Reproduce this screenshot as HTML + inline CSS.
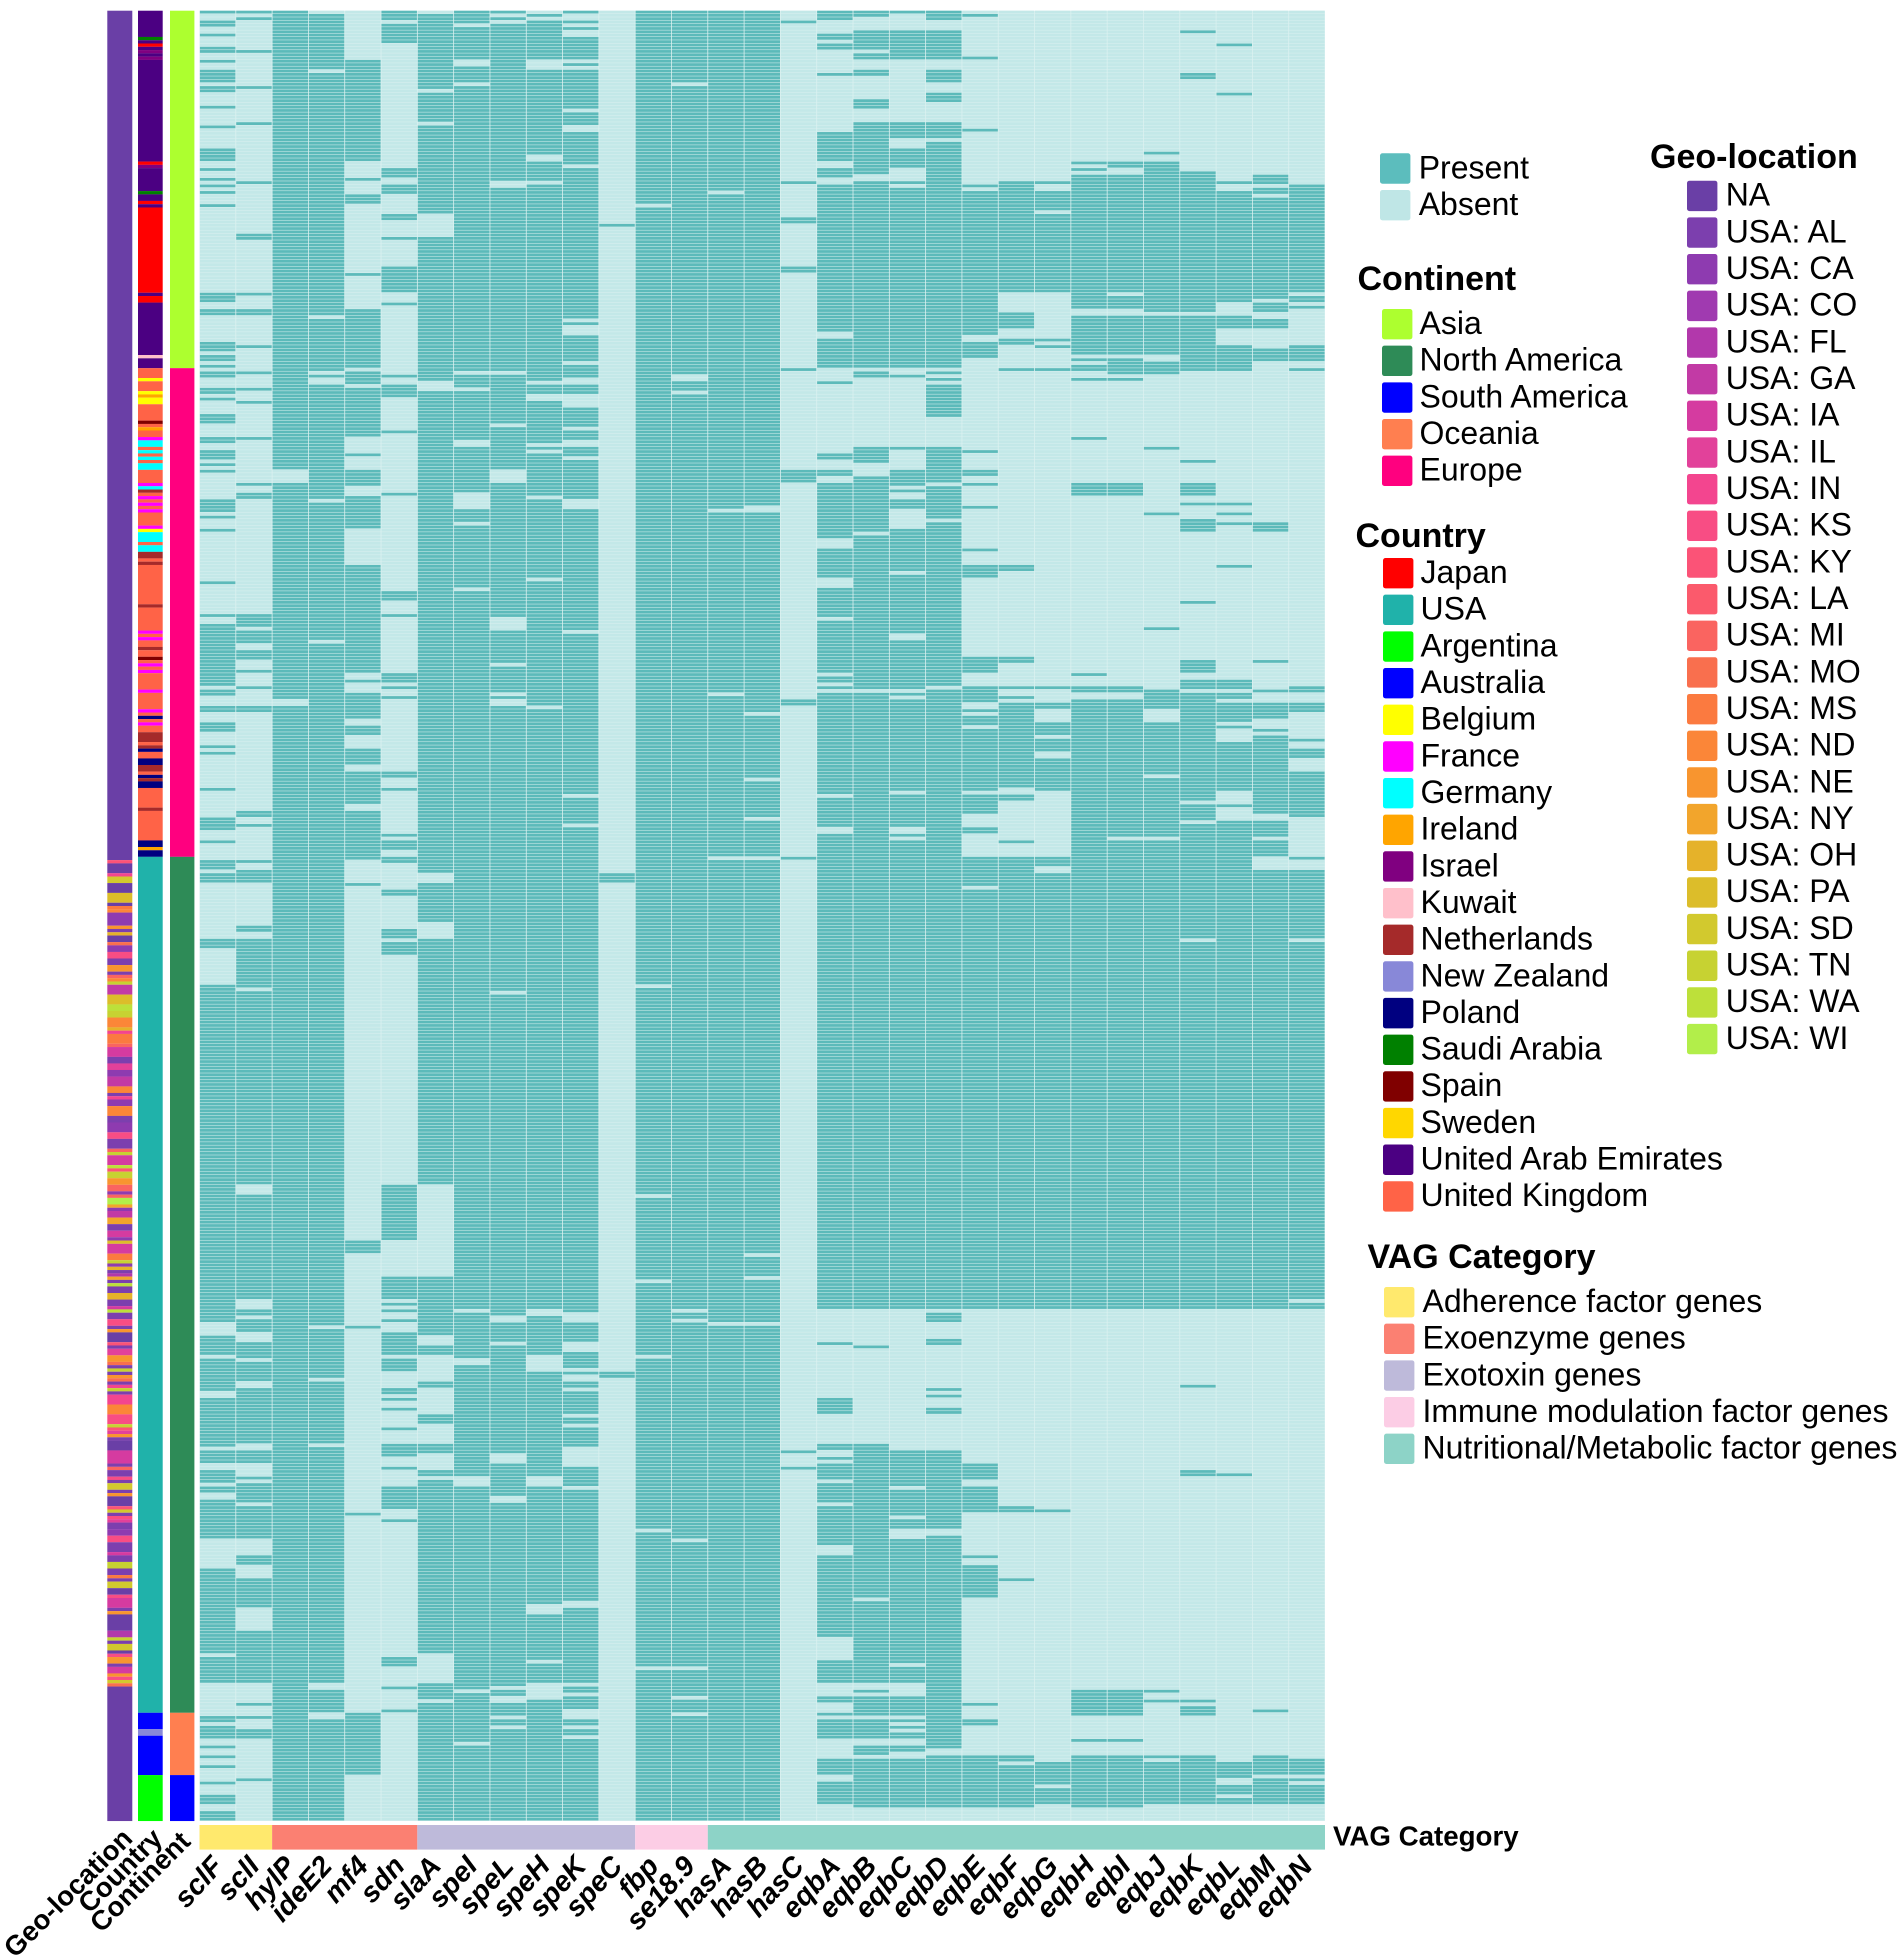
<!DOCTYPE html>
<html lang="en">
<head>
<meta charset="utf-8">
<title>VAG presence/absence heatmap</title>
<style>
html,body{margin:0;padding:0;background:#fff;}
svg{display:block;font-family:"Liberation Sans",Arial,sans-serif;}
</style>
</head>
<body>
<svg id="chart" xmlns="http://www.w3.org/2000/svg" width="1902" height="1959" viewBox="0 0 1902 1959">
<rect x="0" y="0" width="1902" height="1959" fill="#ffffff"/>
<g id="heat"></g>
<g id="annot"></g>
<g id="vag"></g>
<g id="labels"></g>
<g id="legends"></g>
</svg>
<script>
// Isolate count (heatmap rows)
const isolateCount = 552;

// Gene names, heatmap columns in order
const geneNames = ["sclF","sclI","hylP","ideE2","mf4","sdn","slaA","speI","speL","speH","speK","speC","fbp","se18.9","hasA","hasB","hasC","eqbA","eqbB","eqbC","eqbD","eqbE","eqbF","eqbG","eqbH","eqbI","eqbJ","eqbK","eqbL","eqbM","eqbN"];

// Per gene: isolates carrying it, as first,last isolate index pairs
const sclF = [0,0,3,4,7,7,11,12,15,15,18,21,23,24,29,29,35,35,42,45,48,48,51,51,53,53,55,55,59,59,86,88,91,92,101,103,105,106,108,108,110,111,115,116,118,118,123,125,130,131,134,136,138,138,140,140,149,152,154,154,158,158,174,174,184,184,187,205,207,208,212,213,217,219,224,224,226,226,237,237,246,249,253,253,259,261,263,265,283,285,297,399,404,409,411,420,423,437,439,442,445,448,450,450,451,451,454,465,475,500,502,509,520,521,523,526,529,529,532,532,535,535,540,540,544,546,549,551];
const sclI = [0,0,2,2,12,12,23,23,34,34,52,52,68,69,86,86,91,92,102,102,110,110,115,115,119,119,130,130,144,144,147,148,184,187,189,192,195,197,201,201,206,206,212,213,244,245,248,248,259,259,262,265,279,280,283,297,299,357,361,392,396,397,399,402,406,410,412,417,420,436,439,442,447,447,449,454,456,465,471,473,478,486,494,509,516,516,520,520,524,526,539,539];
const hylP = [0,139,144,209,212,551];
const ideE2 = [1,17,19,92,94,109,111,111,114,148,150,191,193,400,402,416,418,436,438,509,512,518,521,551];
const mf4 = [15,45,51,51,56,58,80,80,91,108,110,113,115,129,135,135,140,144,148,157,169,201,204,204,208,215,218,220,225,229,232,241,244,255,256,258,266,266,375,378,401,401,458,458,519,537];
const sdn = [0,2,4,9,48,50,53,55,62,63,69,69,78,85,89,89,111,111,114,116,117,117,128,128,147,147,177,179,184,184,202,204,206,206,209,209,232,233,237,237,251,251,253,255,258,259,268,269,280,282,284,287,358,374,386,392,394,394,396,396,399,399,403,409,411,414,420,421,423,423,426,426,432,432,437,440,444,444,450,456,460,460,502,504,511,511,518,518];
const slaA = [1,23,25,33,35,61,69,112,116,262,266,277,283,357,386,403,407,409,418,419,428,430,437,439,445,446,448,500,510,514,516,551];
const speI = [0,3,5,14,17,21,23,109,111,114,116,130,133,146,152,155,157,175,177,395,397,410,413,446,450,511,513,527,529,551];
const speL = [0,0,2,2,4,51,54,109,111,125,127,139,144,184,189,198,200,207,209,209,212,298,300,397,400,405,407,439,443,452,455,510,512,513,516,519,521,522,524,551];
const speH = [1,1,3,14,18,43,46,51,53,112,114,116,119,131,133,133,135,147,149,172,174,211,213,395,398,409,415,446,450,485,489,502,504,509,515,551];
const speK = [0,0,3,3,5,5,8,14,16,16,18,29,31,34,37,46,48,93,95,95,99,106,108,111,114,116,121,123,124,126,128,130,133,133,134,135,137,148,152,188,190,238,240,247,249,396,400,405,409,413,415,415,418,419,421,427,429,430,432,437,444,449,451,484,487,509,511,512,514,517,521,522,524,525,527,551];
const speC = [65,65,263,265,415,416];
const fbp = [0,58,60,296,298,360,362,386,388,409,411,462,464,504,506,551];
const se18_9 = [0,21,23,110,113,115,117,395,397,398,400,465,467,504,506,513,515,518,520,551];
const hasA = [0,54,56,151,153,207,209,257,259,399,401,551];
const hasB = [0,150,153,213,215,233,235,245,247,257,259,378,380,385,387,399,401,551];
const hasC = [3,3,52,52,63,64,78,79,109,109,140,143,210,211,258,258,439,439,444,444];
const eqbA = [0,2,7,8,10,11,19,19,37,45,48,50,53,97,100,108,113,113,135,136,140,141,144,160,164,172,176,184,186,201,203,204,206,206,208,238,240,248,251,254,255,395,406,406,423,427,437,438,441,441,443,447,449,453,454,454,456,467,471,495,503,509,514,515,519,519,521,526,533,537,540,546];
const eqbB = [0,1,6,11,13,14,18,19,27,29,34,47,48,49,52,108,110,111,133,137,142,158,160,206,208,250,251,395,407,407,437,483,485,509,512,512,514,519,521,526,529,531,533,547];
const eqbC = [0,0,6,14,34,38,42,47,52,52,54,108,111,111,133,133,140,144,146,146,149,151,158,160,161,170,172,189,192,203,204,206,208,208,210,213,214,237,239,248,251,251,253,395,439,445,446,449,451,458,460,462,466,503,505,509,514,519,521,521,523,523,525,526,529,530,533,547];
const eqbD = [0,2,6,14,18,21,25,27,34,38,40,47,48,108,110,110,112,112,114,117,118,123,133,143,145,154,156,205,207,395,397,399,405,406,420,420,422,422,426,427,439,462,465,529,532,547];
const eqbE = [1,1,14,14,36,36,53,53,55,98,101,105,134,134,140,141,144,144,151,151,164,164,169,172,197,199,200,201,206,210,213,213,215,217,219,225,226,237,239,244,249,250,258,266,268,395,443,447,450,457,471,471,474,483,516,516,521,522,532,547];
const eqbF = [52,85,92,96,100,101,109,109,169,170,197,198,206,206,209,209,211,236,239,240,253,253,258,395,456,457,478,478,532,533,535,547];
const eqbG = [52,52,55,60,62,85,100,100,102,102,109,109,206,206,211,211,212,212,217,220,222,225,228,231,232,237,258,260,263,395,457,457,534,540,542,546];
const eqbH = [46,46,48,48,50,90,93,104,106,106,108,109,112,112,130,130,144,147,202,202,206,207,210,395,512,519,527,527,532,547];
const eqbI = [46,47,50,85,87,90,93,104,106,107,108,110,112,112,144,147,206,207,210,251,253,395,512,519,527,527,532,547];
const eqbJ = [43,43,46,60,61,91,93,104,107,110,133,133,153,153,188,188,207,212,217,223,224,232,234,247,248,251,253,395,512,512,515,515,532,532,534,546];
const eqbK = [6,6,19,20,49,91,93,101,102,109,137,137,144,146,147,147,150,150,155,158,180,180,198,201,204,206,208,237,238,240,242,246,248,282,284,395,419,419,445,446,515,515,517,519,532,546];
const eqbL = [10,10,25,25,52,52,55,88,93,96,102,109,150,150,153,153,156,156,169,169,204,206,208,209,211,216,218,218,223,237,242,242,247,259,260,395,446,446,534,538,541,543,545,546];
const eqbM = [50,52,54,55,57,70,71,87,89,91,94,96,103,106,156,158,198,198,207,207,211,215,219,219,221,244,247,249,250,251,253,257,262,395,518,518,532,537,539,546];
const eqbN = [53,85,87,88,90,90,102,106,109,109,206,207,211,213,222,222,225,227,232,241,242,245,258,258,262,282,284,392,394,395,533,537,539,539,541,546];
const geneSpans = [sclF,sclI,hylP,ideE2,mf4,sdn,slaA,speI,speL,speH,speK,speC,fbp,se18_9,hasA,hasB,hasC,eqbA,eqbB,eqbC,eqbD,eqbE,eqbF,eqbG,eqbH,eqbI,eqbJ,eqbK,eqbL,eqbM,eqbN];

// VAG category for consecutive genes
const vagNames = ["Adherence factor genes","Exoenzyme genes","Exotoxin genes","Immune modulation factor genes","Nutritional/Metabolic factor genes"];
const vagGeneCounts = [2,4,6,2,17];
const vagColors = ["#ffe96d","#fb8072","#bebada","#fccde5","#8dd3c7"];

// Continent annotation: consecutive isolates
const continentNames = ["Asia","North America","South America","Oceania","Europe"];
const continentColors = ["#adff2f","#2e8b57","#0000ff","#ff7f50","#ff007f"];
const continentRunLabels = ["Asia","Europe","North America","Oceania","South America"];
const continentRunCounts = [109,149,261,19,14];

// Country annotation: consecutive isolates
const countryNames = ["Japan","USA","Argentina","Australia","Belgium","France","Germany","Ireland","Israel","Kuwait","Netherlands","New Zealand","Poland","Saudi Arabia","Spain","Sweden","United Arab Emirates","United Kingdom"];
const countryColors = ["#ff0000","#20b2aa","#00ff00","#0000ff","#ffff00","#ff00ff","#00ffff","#ffa500","#800080","#ffc0cb","#a52a2a","#8888d8","#000080","#008000","#800000","#ffd700","#4b0082","#ff6347"];
const countryRunLabels = ["United Arab Emirates","Saudi Arabia","United Arab Emirates","Japan","United Arab Emirates","Israel","United Arab Emirates","Israel","United Arab Emirates","Japan","Israel","United Arab Emirates","Saudi Arabia","United Arab Emirates","Japan","United Arab Emirates","Japan","United Arab Emirates","Japan","United Arab Emirates","Kuwait","United Arab Emirates","United Kingdom","Belgium","United Kingdom","Belgium","Ireland","Belgium","United Kingdom","Spain","United Kingdom","Ireland","United Kingdom","France","Germany","United Kingdom","Germany","United Kingdom","Germany","United Kingdom","Germany","United Kingdom","France","Germany","Netherlands","United Kingdom","France","United Kingdom","France","United Kingdom","France","United Kingdom","France","Belgium","Germany","United Kingdom","Germany","Netherlands","United Kingdom","Netherlands","United Kingdom","Netherlands","United Kingdom","France","United Kingdom","France","United Kingdom","Netherlands","United Kingdom","Spain","United Kingdom","France","United Kingdom","France","United Kingdom","France","United Kingdom","France","United Kingdom","Poland","United Kingdom","France","United Kingdom","Netherlands","United Kingdom","Netherlands","Poland","United Kingdom","Poland","Netherlands","United Kingdom","Poland","Netherlands","Poland","United Kingdom","Netherlands","United Kingdom","Poland","Ireland","Poland","USA","Australia","New Zealand","Australia","Argentina"];
const countryRunCounts = [8,1,1,1,1,1,1,1,31,1,1,7,1,2,1,1,26,1,2,16,1,3,3,1,3,1,1,2,5,1,1,1,2,1,2,1,1,1,1,1,2,4,1,1,1,1,1,1,1,1,1,4,1,1,3,1,2,2,1,1,12,1,7,1,1,1,2,1,2,1,1,1,1,1,5,1,5,1,1,1,1,1,2,3,1,1,1,2,2,2,1,1,1,2,6,1,9,2,1,2,261,5,2,12,14];

// Geo-location annotation: consecutive isolates
const geoNames = ["NA","USA: AL","USA: CA","USA: CO","USA: FL","USA: GA","USA: IA","USA: IL","USA: IN","USA: KS","USA: KY","USA: LA","USA: MI","USA: MO","USA: MS","USA: ND","USA: NE","USA: NY","USA: OH","USA: PA","USA: SD","USA: TN","USA: WA","USA: WI"];
const geoColors = ["#6a3fa6","#7c3fae","#8e3bb0","#a03ab0","#b238ab","#c23aa5","#d53ba0","#e2419a","#f3458f","#f84d84","#fb5377","#fb5a6c","#fa6460","#f96f4e","#fb7a40","#fb8638","#f8952f","#f2a52c","#e5b22a","#dcbd2a","#d2c92e","#c7d232","#bde03a","#b2ee4a"];
const geoRunLabels = ["NA","KY","NA","IN","SD","NA","PA","NA","MS","ND","CA","NE","AL","OH","NA","MO","CA","KS","AL","NE","AL","MI","ND","TN","GA","PA","WA","TN","ND","OH","IN","MS","MI","IA","AL","IL","CA","GA","ND","AL","IN","CA","ND","AL","CA","KS","AL","MI","TN","IA","WA","KY","TN","NE","MI","CA","MI","WI","NY","CA","GA","NY","AL","IA","CA","PA","IA","MS","TN","CA","OH","AL","FL","NY","AL","WA","AL","OH","AL","IA","WA","AL","KS","AL","NE","NA","KY","AL","IL","NE","MO","AL","TN","AL","NE","MO","AL","IN","TN","AL","IN","ND","KS","TN","KY","IL","NE","AL","NA","IA","AL","MI","AL","KS","AL","SD","AL","NE","NA","KY","SD","AL","KS","IL","AL","CA","KS","AL","IA","AL","TN","AL","MS","AL","SD","NA","KS","IA","AL","NE","NA","FL","TN","AL","SD","NA","KS","NE","AL","IA","NE","KS","SD","MO","NA"];
const geoRunCounts = [259,1,3,1,2,3,3,1,1,1,4,1,1,1,2,1,2,2,2,2,1,1,1,1,3,3,2,2,3,1,1,3,1,3,2,2,2,3,2,1,1,2,3,2,3,2,3,1,1,3,1,1,2,2,2,1,1,2,1,1,2,2,2,2,1,1,3,2,1,1,1,1,1,1,1,1,2,2,2,1,1,2,2,1,1,3,1,1,2,2,1,1,1,1,1,1,1,1,1,1,3,3,3,1,1,1,1,1,3,4,1,1,2,1,1,2,1,1,3,1,1,1,1,1,2,2,2,3,1,2,2,2,1,1,2,2,1,3,1,1,5,2,1,1,2,1,1,2,1,2,1,1,1,1,41];

// Presence legend
const presenceNames = ["Present","Absent"];
const presenceColors = ["#5cbdbd","#bfe6e6"];

const SVGNS = "http://www.w3.org/2000/svg";
function xScale(col){ return 199.5 + col * (1125.5 / geneNames.length); }
function yScale(row){ return 10.7 + row * (1810.3 / isolateCount); }
function mk(tag, parent, attrs){
  const el = document.createElementNS(SVGNS, tag);
  for (const k in attrs) el.setAttribute(k, attrs[k]);
  parent.appendChild(el);
  return el;
}

/* heatmap cells */
const heat = document.getElementById("heat");
mk("rect", heat, {x:xScale(0), y:yScale(0), width:xScale(geneNames.length)-xScale(0), height:yScale(isolateCount)-yScale(0), fill:"#dbf1f0"});
const colW = xScale(1) - xScale(0);
const rowH = yScale(1) - yScale(0);
geneSpans.forEach(function(spans, c){
  const present = new Array(isolateCount).fill(false);
  for (let i = 0; i < spans.length; i += 2) {
    for (let r = spans[i]; r <= spans[i + 1] && r < isolateCount; r++) present[r] = true;
  }
  for (let r = 0; r < isolateCount; r++) {
    const cell = mk("rect", heat, {x:xScale(c) + 0.4, y:yScale(r), width:colW - 0.8, height:rowH - 0.5, fill: present[r] ? "#5cbaba" : "#c3e8e8"});
    
    
  }
});

/* annotation bars */
const annot = document.getElementById("annot");
function drawBar(labels, counts, lookup, x, w, name){
  let row = 0;
  labels.forEach(function(lab, i){
    const seg = mk("rect", annot, {x:x, y:yScale(row), width:w, height:yScale(row + counts[i]) - yScale(row) + 0.05, fill:lookup(lab)});
    
    
    row += counts[i];
  });
}
drawBar(geoRunLabels, geoRunCounts, function(l){ const n = l === "NA" ? "NA" : "USA: " + l; return geoColors[geoNames.indexOf(n)]; }, 107.3, 25, "geo-location-segment");
drawBar(countryRunLabels, countryRunCounts, function(l){ return countryColors[countryNames.indexOf(l)]; }, 138, 24.7, "country-segment");
drawBar(continentRunLabels, continentRunCounts, function(l){ return continentColors[continentNames.indexOf(l)]; }, 170, 24.4, "continent-segment");

/* VAG bar */
const vag = document.getElementById("vag");
let gi = 0;
vagGeneCounts.forEach(function(n, i){
  const seg = mk("rect", vag, {x:xScale(gi), y:1825, width:xScale(gi + n) - xScale(gi), height:24.6, fill:vagColors[i]});
  
  
  gi += n;
});

/* labels */
const labelsG = document.getElementById("labels");
geneNames.forEach(function(g, c){
  const x = xScale(c) + colW / 2 + 7;
  const t = mk("text", labelsG, {x:x, y:1867, transform:"rotate(-48 " + x + " 1867)", "text-anchor":"end", "font-size":"28.5", "font-weight":"bold", "font-style":"italic", fill:"#000"});
  
  
  t.textContent = g;
});
const annotLabels = ["Geo-location","Country","Continent"];
const annotLabelCentres = [134, 164, 192];
const annotLabelBaselines = [1840, 1840, 1843];
annotLabels.forEach(function(s, i){
  const x = annotLabelCentres[i];
  const y = annotLabelBaselines[i];
  const t = mk("text", labelsG, {x:x, y:y, transform:"rotate(-45 " + x + " " + y + ")", "text-anchor":"end", "font-size":"27.5", "font-weight":"bold", fill:"#000"});
  
  
  t.textContent = s;
});
const vagAxis = mk("text", labelsG, {x:1333, y:1845.5, "font-size":"27.7", "font-weight":"bold", fill:"#000"});


vagAxis.textContent = "VAG Category";

/* legends */
const legendsG = document.getElementById("legends");
function drawLegend(title, tx, ty, names, colors, sx, sy, textX, name){
  if (title) {
    const h = mk("text", legendsG, {x:tx, y:ty, "font-size":"34", "font-weight":"bold", fill:"#000"});
    
    
    h.textContent = title;
  }
  names.forEach(function(n, i){
    const y = sy + i * 36.66;
    const sw = mk("rect", legendsG, {x:sx, y:y, width:30.4, height:30.4, rx:2.5, fill:colors[i]});
    
    
    const t = mk("text", legendsG, {x:textX, y:y + 25, "font-size":"32", fill:"#000"});
    
    
    t.textContent = n;
  });
}
drawLegend("", 0, 0, presenceNames, presenceColors, 1380, 153.3, 1418.7, "presence-legend");
drawLegend("Continent", 1357.5, 290, continentNames, continentColors, 1382, 309, 1419.5, "continent-legend");
drawLegend("Country", 1355.5, 547, countryNames, countryColors, 1383, 558, 1420.5, "country-legend");
drawLegend("Geo-location", 1650, 168, geoNames, geoColors, 1687, 180.7, 1725.7, "geo-location-legend");
drawLegend("VAG Category", 1367.5, 1268, vagNames, vagColors, 1384, 1287, 1422.5, "vag-category-legend");
</script>
</body>
</html>
